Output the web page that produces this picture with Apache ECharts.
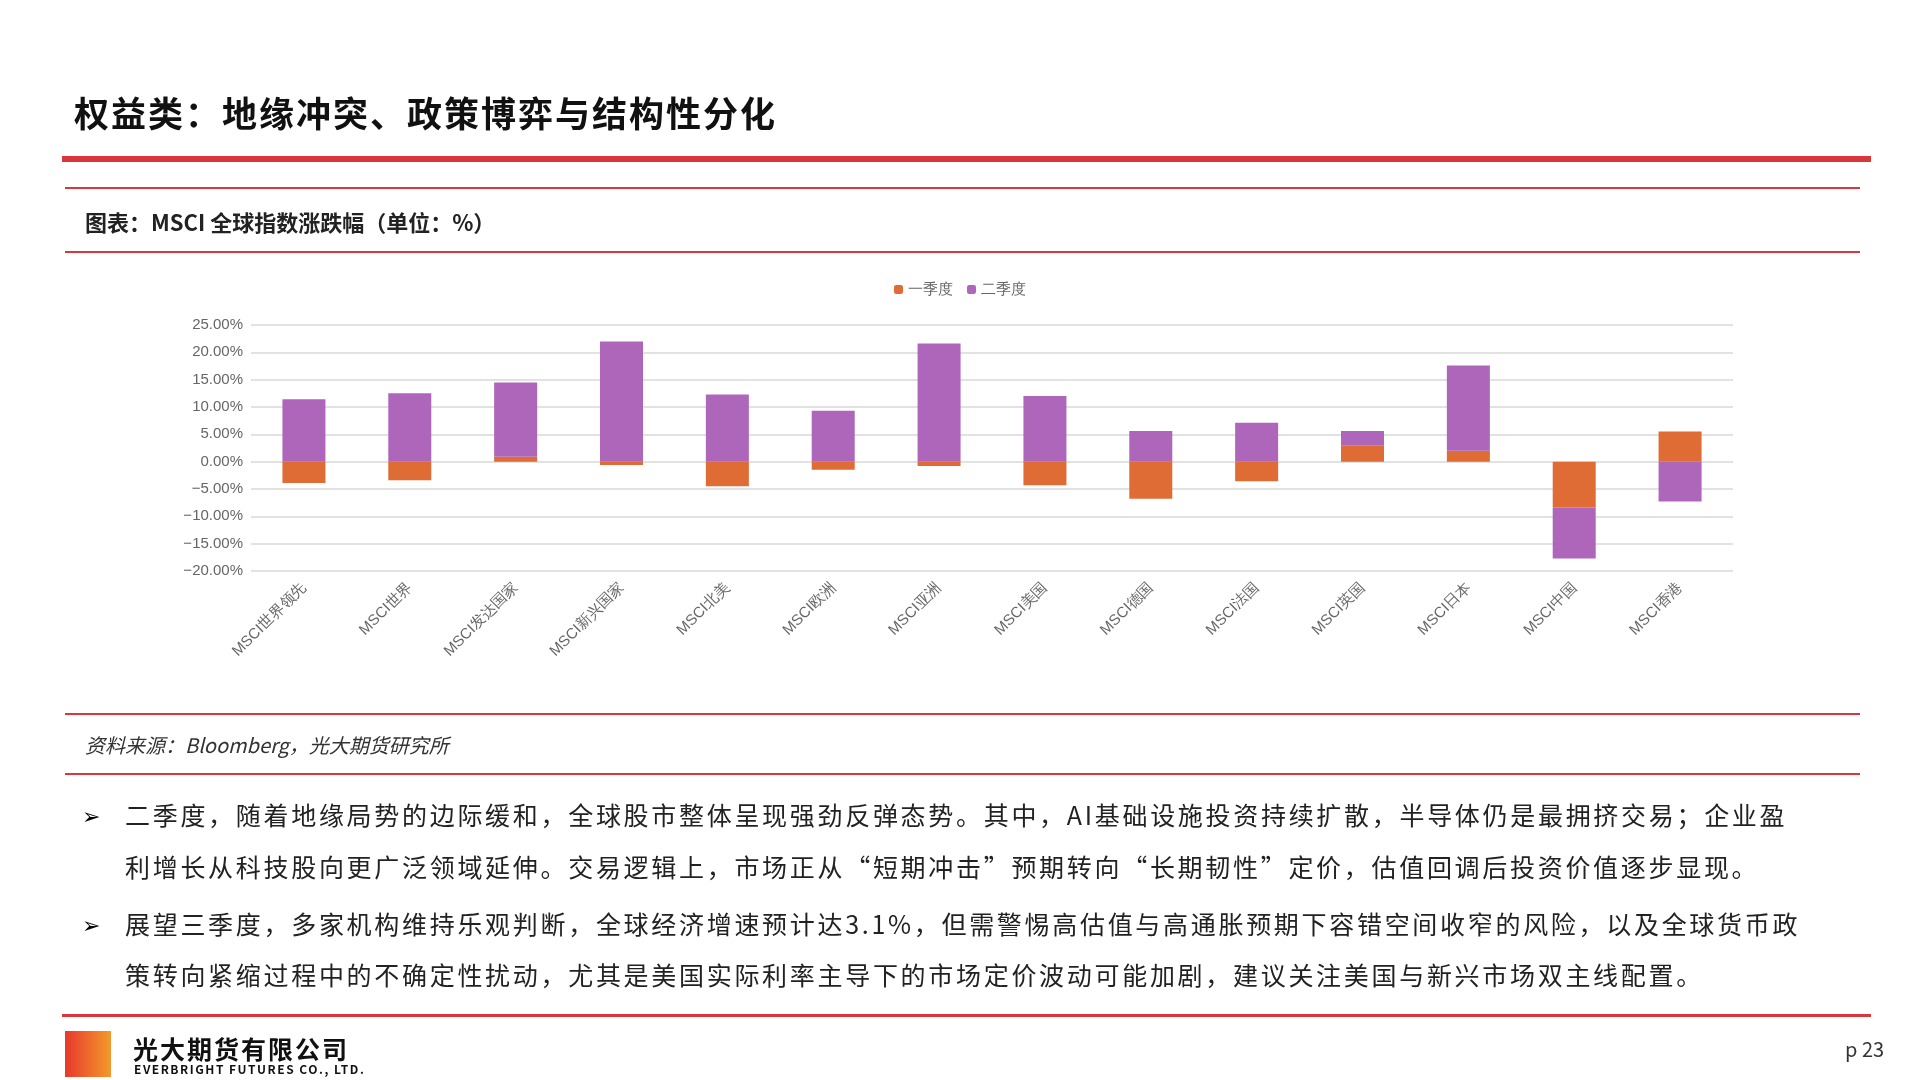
<!DOCTYPE html>
<html><head><meta charset="utf-8">
<script src="https://cdn.jsdelivr.net/npm/echarts@6/dist/echarts.min.js"></script>
<style>
body{margin:0;width:1920px;height:1080px;position:relative;background:#fff;font-family:"Noto Sans CJK SC",sans-serif;overflow:hidden}
#c{position:absolute;left:0;top:0;width:1920px;height:1080px}
.a{position:absolute;white-space:nowrap}
.ln{position:absolute;left:65px;width:1795px;height:2px;background:#d9363e}
.b{font-size:25px;color:#222;letter-spacing:2.7px;left:125px}
.m{position:absolute;left:82px;font-size:22px}
</style></head><body>
<div id="c"></div>
<div class="a" style="left:74px;top:86px;font-size:35px;font-weight:bold;color:#111;letter-spacing:2px">权益类：地缘冲突、政策博弈与结构性分化</div>
<div class="a" style="left:62px;top:156px;width:1809px;height:6px;background:#d9363e"></div>
<div class="ln" style="top:187px"></div>
<div class="a" style="left:85px;top:205px;font-size:22px;font-weight:bold;color:#222">图表：MSCI 全球指数涨跌幅（单位：%）</div>
<div class="ln" style="top:251px"></div>
<div class="ln" style="top:713px"></div>
<div class="a" style="left:85px;top:730px;font-size:20px;font-style:italic;color:#333">资料来源：Bloomberg，光大期货研究所</div>
<div class="ln" style="top:773px"></div>
<div class="a m" style="top:798px">➢</div>
<div class="a b" style="top:796px">二季度，随着地缘局势的边际缓和，全球股市整体呈现强劲反弹态势。其中，AI基础设施投资持续扩散，半导体仍是最拥挤交易；企业盈</div>
<div class="a b" style="top:848px">利增长从科技股向更广泛领域延伸。交易逻辑上，市场正从“短期冲击”预期转向“长期韧性”定价，估值回调后投资价值逐步显现。</div>
<div class="a m" style="top:907px">➢</div>
<div class="a b" style="top:905px">展望三季度，多家机构维持乐观判断，全球经济增速预计达3.1%，但需警惕高估值与高通胀预期下容错空间收窄的风险，以及全球货币政</div>
<div class="a b" style="top:956px">策转向紧缩过程中的不确定性扰动，尤其是美国实际利率主导下的市场定价波动可能加剧，建议关注美国与新兴市场双主线配置。</div>
<div class="a" style="left:62px;top:1014px;width:1809px;height:3px;background:#d9363e"></div>
<div class="a" style="left:65px;top:1031px;width:46px;height:46px;background:linear-gradient(90deg,#e8382e,#f39a2a)"></div>
<div class="a" style="left:133px;top:1030px;font-size:25px;font-weight:bold;color:#111;letter-spacing:2px">光大期货有限公司</div>
<div class="a" style="left:134px;top:1060px;font-size:12px;font-weight:bold;color:#111;letter-spacing:1.5px">EVERBRIGHT FUTURES CO., LTD.</div>
<div class="a" style="left:1845px;top:1034px;font-size:20px;color:#333">p 23</div>
<script>
const categories=['MSCI世界领先','MSCI世界','MSCI发达国家','MSCI新兴国家','MSCI北美','MSCI欧洲','MSCI亚洲','MSCI美国','MSCI德国','MSCI法国','MSCI英国','MSCI日本','MSCI中国','MSCI香港'];
const q1=[-3.9,-3.4,0.9,-0.6,-4.5,-1.5,-0.8,-4.3,-6.8,-3.6,2.9,2.0,-8.4,5.5];
const q2=[11.4,12.5,13.6,22.0,12.3,9.3,21.6,12.0,5.6,7.1,2.7,15.6,-9.3,-7.3];
const ch=echarts.init(document.getElementById('c'));
ch.setOption({
 animation:false,
 legend:{top:277,left:'center',itemWidth:9,itemHeight:9,itemGap:14,textStyle:{fontSize:15,color:'#666'},data:['一季度','二季度']},
 grid:{left:251,right:187,top:325,bottom:509,containLabel:false},
 xAxis:{type:'category',data:categories,axisLine:{show:false},axisTick:{show:false},
  axisLabel:{rotate:45,interval:0,fontSize:15,color:'#666',margin:14}},
 yAxis:{type:'value',min:-20,max:25,interval:5,
  axisLabel:{formatter:v=>(v<0?'−'+Math.abs(v).toFixed(2):v.toFixed(2))+'%',fontSize:15,color:'#666'},
  splitLine:{lineStyle:{color:'#d9d9d9',width:1.5}}},
 series:[
  {name:'一季度',type:'bar',stack:'s',data:q1,barWidth:43,itemStyle:{color:'#e06c35'}},
  {name:'二季度',type:'bar',stack:'s',data:q2,itemStyle:{color:'#ad66b9'}}
 ]
});
</script>
</body></html>
